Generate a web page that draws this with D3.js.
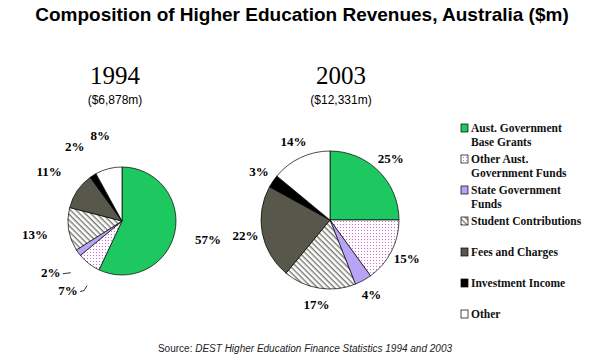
<!DOCTYPE html>
<html><head><meta charset="utf-8">
<script src="https://cdn.jsdelivr.net/npm/d3@7"></script>
<style>body{margin:0;background:#fff}svg{display:block}</style>
</head><body>
<script>
const categories = ["Aust. Government Base Grants","Other Aust. Government Funds","State Government Funds","Student Contributions","Fees and Charges","Investment Income","Other"];
const legendLines = [["Aust. Government","Base Grants"],["Other Aust.","Government Funds"],["State Government","Funds"],["Student Contributions"],["Fees and Charges"],["Investment Income"],["Other"]];
const values1994 = [57,7,2,13,11,2,8];
const values2003 = [25,15,4,17,22,3,14];
const years = ["1994","2003"];
const totals = ["($6,878m)","($12,331m)"];
const leader1994 = [false,true,true,false,false,false,false];

const W=601,H=360;
const svg=d3.select("body").append("svg").attr("width",W).attr("height",H);
const defs=svg.append("defs");
const dots=defs.append("pattern").attr("id","dots").attr("patternUnits","userSpaceOnUse").attr("width",3).attr("height",3);
dots.append("rect").attr("width",3).attr("height",3).attr("fill","#fff");
dots.append("rect").attr("x",1).attr("y",1).attr("width",1).attr("height",1).attr("fill","#d66ad6");
const stripes=defs.append("pattern").attr("id","stripes").attr("patternUnits","userSpaceOnUse").attr("width",4).attr("height",4).attr("patternTransform","rotate(45)");
stripes.append("rect").attr("width",4).attr("height",4).attr("fill","#fff");
stripes.append("rect").attr("x",0).attr("y",0).attr("width",4).attr("height",1.4).attr("fill","#7a7a72");

const fills=["#1ec860","url(#dots)","#b8a4f6","url(#stripes)","#57574b","#000","#fff"];
const color=d3.scaleOrdinal().domain(categories).range(fills);

svg.append("text").attr("x",302).attr("y",21).attr("text-anchor","middle")
  .attr("font-family","Liberation Sans, Arial, sans-serif").attr("font-weight","bold").attr("font-size",19)
  .text("Composition of Higher Education Revenues, Australia ($m)");

const pies=[
  {cx:122,cy:221,r:54,lr:88,vals:values1994,leaders:leader1994,tx:115},
  {cx:330,cy:220,r:69,lr:86,vals:values2003,leaders:values2003.map(()=>false),tx:341}
];
const pie=d3.pie().sort(null).value(d=>d.v);
pies.forEach((p,i)=>{
  const g=svg.append("g").attr("transform",`translate(${p.cx},${p.cy})`);
  const data=pie(p.vals.map((v,k)=>({v,cat:categories[k],lead:p.leaders[k]})));
  const arc=d3.arc().innerRadius(0).outerRadius(p.r);
  const larc=d3.arc().innerRadius(p.lr).outerRadius(p.lr);
  g.selectAll("path").data(data).join("path").attr("d",arc)
    .attr("fill",d=>color(d.data.cat)).attr("stroke","#000").attr("stroke-width",0.7);
  g.selectAll("text.pct").data(data).join("text").attr("class","pct")
    .attr("x",d=>larc.centroid(d)[0]).attr("y",d=>larc.centroid(d)[1]+4)
    .attr("text-anchor","middle").attr("font-family","Liberation Serif, Times New Roman, serif")
    .attr("font-weight","bold").attr("font-size",13).text(d=>d.data.v+"%");
  g.selectAll("path.lead").data(data.filter(d=>d.data.lead)).join("path").attr("class","lead")
    .attr("d",d=>{const [x,y]=larc.centroid(d);const a=(d.startAngle+d.endAngle)/2;
      const x0=x+12,y0=y+1;
      return a>4 ? `M${x0},${y0} L${x0+8},${y0-1}` : `M${x0},${y0} L${x0+4},${y0-1} L${x0+7},${y0-6}`;})
    .attr("stroke","#000").attr("stroke-width",0.8).attr("fill","none");
  svg.append("text").attr("x",p.tx).attr("y",84).attr("text-anchor","middle")
    .attr("font-family","Liberation Serif, Times New Roman, serif").attr("font-size",25).text(years[i]);
  svg.append("text").attr("x",p.tx).attr("y",104).attr("text-anchor","middle")
    .attr("font-family","Liberation Sans, Arial, sans-serif").attr("font-size",12).text(totals[i]);
});

const ly=d3.scalePoint().domain(categories).range([128,314]);
const lg=svg.append("g");
categories.forEach((c,k)=>{
  const y=ly(c);
  lg.append("rect").attr("x",461).attr("y",y-4).attr("width",7).attr("height",8)
    .attr("fill",color(c)).attr("stroke","#000").attr("stroke-width",0.7);
  legendLines[k].forEach((t,j)=>{
    lg.append("text").attr("x",471).attr("y",y+4+j*14)
      .attr("font-family","Liberation Serif, Times New Roman, serif").attr("font-weight","bold")
      .attr("font-size",11.5).attr("fill","#111").text(t);
  });
});

const src=svg.append("text").attr("x",305).attr("y",352).attr("text-anchor","middle")
  .attr("font-family","Liberation Sans, Arial, sans-serif").attr("font-size",10).attr("fill","#222");
src.append("tspan").text("Source: ");
src.append("tspan").attr("font-style","italic").text("DEST Higher Education Finance Statistics 1994 and 2003");
</script>
</body></html>
